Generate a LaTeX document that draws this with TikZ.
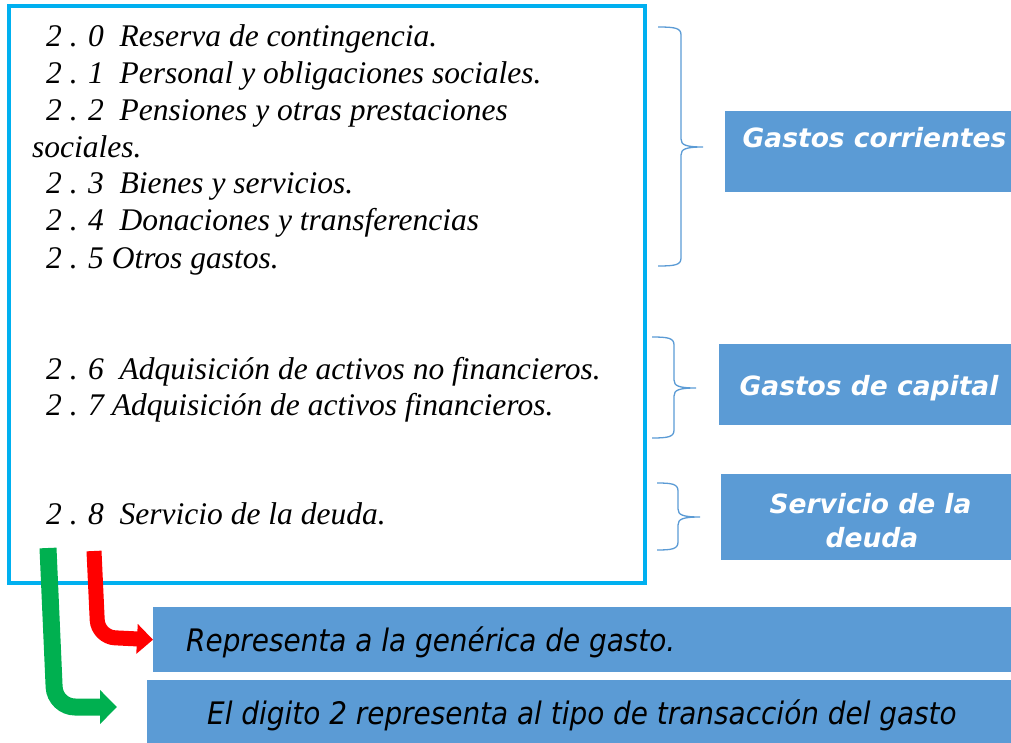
\documentclass[tikz,border=0pt]{standalone}
\usepackage{fontspec}
\setmainfont{Liberation Serif}
\newfontfamily\boxfont{DejaVu Sans}
\newfontfamily\notefont[FakeStretch=0.9]{DejaVu Sans}
\usetikzlibrary{arrows.meta}
\definecolor{cyanb}{HTML}{00B0F0}
\definecolor{blueb}{HTML}{5B9BD5}
\definecolor{grn}{HTML}{00B050}
\definecolor{rd}{HTML}{FF0000}
\newcommand\mybrace[6]{% x-left, x-spine, x-tip, y-top, y-mid, y-bottom
  \draw[bracestyle] (#1,#4) .. controls (#2-6,#4) and (#2,#4+1) .. (#2,#4+8)
    -- (#2,#5-8) .. controls (#2,#5-2) and (#2+5,#5) .. (#3,#5)
    (#3,#5) .. controls (#2+5,#5) and (#2,#5+2) .. (#2,#5+8)
    -- (#2,#6-8) .. controls (#2,#6-1) and (#2-6,#6) .. (#1,#6);}
\begin{document}
\begin{tikzpicture}[x=1pt,y=-1pt,
  item/.style={anchor=base west, inner sep=0, font=\fontsize{31.5}{36}\selectfont\itshape},
  catbox/.style={fill=blueb, draw=none, anchor=north west, inner sep=0},
  cattext/.style={text=white, inner sep=0, anchor=base, font=\boxfont\bfseries\itshape\fontsize{26.5}{34}\selectfont},
  notetext/.style={inner sep=0, anchor=base west, font=\notefont\itshape\fontsize{31}{36}\selectfont},
  bracestyle/.style={draw=blueb, line width=1.3pt},
  fatarrow/.style={line width=#1, line cap=butt}]
\useasboundingbox (0,0) rectangle (1011,743);
% main frame
\node[draw=cyanb, line width=4pt, minimum width=636pt, minimum height=577pt, inner sep=0] (main) at (327,294.5) {};
% items
\node[item] (l0) at (46,47) {2 . 0~~Reserva de contingencia.};
\node[item] (l1) at (46,84) {2 . 1~~Personal y obligaciones sociales.};
\node[item] (l2) at (46,121) {2 . 2~~Pensiones y otras prestaciones};
\node[item] (l2b) at (32,157.5) {sociales.};
\node[item] (l3) at (46,194) {2 . 3~~Bienes y servicios.};
\node[item] (l4) at (46,231) {2 . 4~~Donaciones y transferencias};
\node[item] (l5) at (46,268) {2 . 5 Otros gastos.};
\node[item] (l6) at (46,379) {2 . 6~~Adquisición de activos no financieros.};
\node[item] (l7) at (46,415) {2 . 7 Adquisición de activos financieros.};
\node[item] (l8) at (46,524) {2 . 8~~Servicio de la deuda.};
% braces
\mybrace{658}{681}{703}{27}{147}{266}
\mybrace{652}{674}{696}{337}{388}{438}
\mybrace{657}{678}{700}{483}{517}{550}
% category boxes
\node[catbox, minimum width=286pt, minimum height=81pt] (gcor) at (725,111) {};
\node[cattext] (tgcor) at (874.5,148) {Gastos corrientes};
\node[catbox, minimum width=292pt, minimum height=81pt] (gcap) at (719,344) {};
\node[cattext] (tgcap) at (869,395) {Gastos de capital};
\node[catbox, minimum width=290pt, minimum height=86pt] (sdeu) at (721,474) {};
\node[cattext] (tsdeu1) at (870.5,513) {Servicio de la};
\node[cattext] (tsdeu2) at (872,547) {deuda};
% note boxes
\node[catbox, minimum width=858pt, minimum height=65pt] (n1) at (153,607) {};
\node[notetext] (tn1) at (186,651) {Representa a la genérica de gasto.};
\node[catbox, minimum width=864pt, minimum height=63pt] (n2) at (147,680) {};
\node[notetext] (tn2) at (207,724) {El digito 2 representa al tipo de transacción del gasto};
% arrows
\coordinate (gs) at (48,548);
\coordinate (gb) at (55,707);
\coordinate (ge) at (117,707);
\coordinate (rs) at (94,551);
\coordinate (rb) at (98,637);
\draw[grn, fatarrow=17pt, rounded corners=20pt, -{Triangle[length=17pt,width=33pt]}] (gs) -- (gb) -- (ge);
\draw[rd, fatarrow=15pt, rounded corners=17pt, -{Triangle[length=16pt,width=29pt]}] (rs) -- (rb) -- (n1.west);
\end{tikzpicture}
\end{document}
